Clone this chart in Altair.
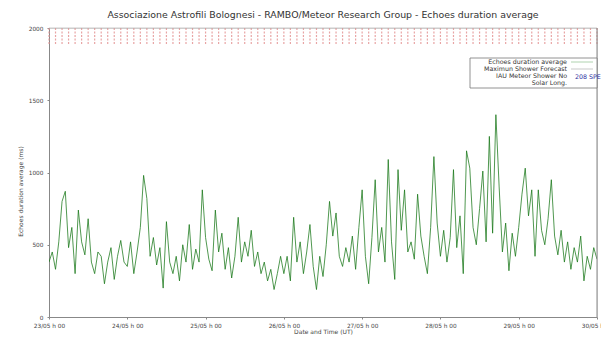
import altair as alt
import pandas as pd

# Echoes duration average (ms), hourly readings 23/05 h00 -> 30/05 h00
day1 = [380, 450, 330, 520, 800, 870, 480, 620, 300, 740, 520, 430,
        680, 380, 300, 450, 420, 230, 380, 480, 260, 420, 530, 380]
day2 = [350, 520, 300, 450, 620, 980, 820, 420, 550, 360, 480, 200,
        660, 380, 300, 420, 250, 500, 380, 640, 330, 470, 380, 880]
day3 = [550, 400, 320, 740, 450, 580, 330, 480, 270, 420, 690, 380,
        520, 420, 600, 350, 450, 300, 380, 250, 330, 190, 300, 420]
day4 = [300, 420, 250, 690, 380, 520, 300, 450, 640, 350, 190, 420,
        280, 500, 800, 560, 720, 420, 350, 480, 380, 560, 330, 620]
day5 = [880, 420, 230, 550, 950, 450, 620, 380, 1090, 520, 260, 1020,
        600, 880, 450, 520, 400, 850, 560, 420, 300, 620, 1110, 650]
day6 = [420, 600, 380, 550, 1020, 480, 700, 300, 1150, 1030, 620, 500,
        750, 1010, 520, 1250, 580, 1400, 900, 450, 650, 320, 580, 420]
day7 = [620, 850, 1030, 700, 880, 420, 880, 600, 500, 680, 950, 560,
        430, 600, 380, 520, 330, 480, 380, 560, 250, 420, 330, 480, 400]

values = day1 + day2 + day3 + day4 + day5 + day6 + day7

day_labels = ["23/05 h 00", "24/05 h 00", "25/05 h 00", "26/05 h 00",
              "27/05 h 00", "28/05 h 00", "29/05 h 00", "30/05 h 00"]
day_ticks = [0, 24, 48, 72, 96, 120, 144, 168]
y_ticks = [0, 500, 1000, 1500, 2000]
# solar-longitude marker hours (every 2 h)
marker_hours = list(range(0, 169, 2))

legend_entries = ["Echoes duration average", "Maximun Shower Forecast",
                  "IAU Meteor Shower No", "Solar Long."]
shower_code = "208 SPE"

title_text = "Associazione Astrofili Bolognesi - RAMBO/Meteor Research Group - Echoes duration average"

df = pd.DataFrame({"hour": list(range(len(values))), "ms": values})
mk = pd.DataFrame({"hour": marker_hours, "top": [2000] * len(marker_hours),
                   "bot": [1885] * len(marker_hours)})
one = pd.DataFrame({"k": [0]})

FONT = "DejaVu Sans"
TXT = "#444444"
W, H = 548, 289

label_expr = "[" + ",".join("'%s'" % s for s in day_labels) + "][round(datum.value/24)]"

xscale = alt.Scale(domain=[0, 168], nice=False, zero=False)
yscale = alt.Scale(domain=[0, 2000], nice=False)

line = alt.Chart(df).mark_line(color="#157515", strokeWidth=0.75, clip=True).encode(
    x=alt.X("hour:Q", scale=xscale,
            axis=alt.Axis(values=day_ticks, labelExpr=label_expr, title="Date and Time (UT)",
                          labelFont=FONT, labelFontSize=5.8, labelColor=TXT,
                          titleFont=FONT, titleFontSize=6, titleColor=TXT, titleFontWeight="normal",
                          titlePadding=1, labelPadding=3, tickSize=2, tickColor="#888",
                          domainColor="#888", domainWidth=1, grid=False, labelFlush=False,
                          labelOverlap=False)),
    y=alt.Y("ms:Q", scale=yscale,
            axis=alt.Axis(values=y_ticks, format="d", title="Echoes duration average (ms)",
                          labelFont=FONT, labelFontSize=5.8, labelColor=TXT,
                          titleFont=FONT, titleFontSize=6, titleColor=TXT, titleFontWeight="normal",
                          titleX=-26, titleY=163, labelPadding=4, tickSize=2, tickColor="#888",
                          domainColor="#888", domainWidth=1, grid=False, labelFlush=False)),
)

markers = alt.Chart(mk).mark_rule(color="#e49494", strokeWidth=1.2, strokeDash=[2, 1.5],
                                  opacity=0.85).encode(
    x=alt.X("hour:Q", scale=xscale),
    y=alt.Y("top:Q", scale=yscale),
    y2="bot:Q",
)

base = alt.Chart(one)
right_border = base.mark_rule(color="#888", strokeWidth=1).encode(
    x=alt.value(W), y=alt.value(0), y2=alt.value(H))
top_border = base.mark_rule(color="#aaa", strokeWidth=0.6).encode(
    x=alt.value(0), x2=alt.value(W), y=alt.value(0))

# legend box
box = base.mark_rect(fill="white", stroke="#777", strokeWidth=0.8).encode(
    x=alt.value(421), x2=alt.value(W), y=alt.value(30), y2=alt.value(60))

leg_rows = [34, 41, 48, 55]
leg_layers = []
for lab, yy in zip(legend_entries, leg_rows):
    leg_layers.append(base.mark_text(align="right", baseline="middle", font=FONT,
                                     fontSize=6.3, color="#333333", text=lab).encode(
        x=alt.value(518), y=alt.value(yy)))
samp1 = base.mark_rule(color="#9cc89c", strokeWidth=0.8).encode(
    x=alt.value(522), x2=alt.value(544), y=alt.value(34))
samp2 = base.mark_rule(color="#bbbbbb", strokeWidth=0.8).encode(
    x=alt.value(522), x2=alt.value(544), y=alt.value(41))
spe = base.mark_text(align="left", baseline="middle", font=FONT, fontSize=6.3,
                     color="#2b2ba0", text=shower_code).encode(
    x=alt.value(526), y=alt.value(48.5))

chart = alt.layer(markers, line, top_border, right_border, box, samp1, samp2, *leg_layers, spe).properties(
    width=W, height=H,
    title=alt.TitleParams(title_text, font=FONT, fontSize=9.4, fontWeight="normal",
                          color="#333", anchor="middle", offset=5),
    autosize=alt.AutoSizeParams(type="none"),
    padding={"left": 41, "top": 20, "right": 4, "bottom": 20},
).configure_view(stroke=None).configure(background="white")

chart.save("out.html", embed_options={"renderer": "svg", "actions": False})
